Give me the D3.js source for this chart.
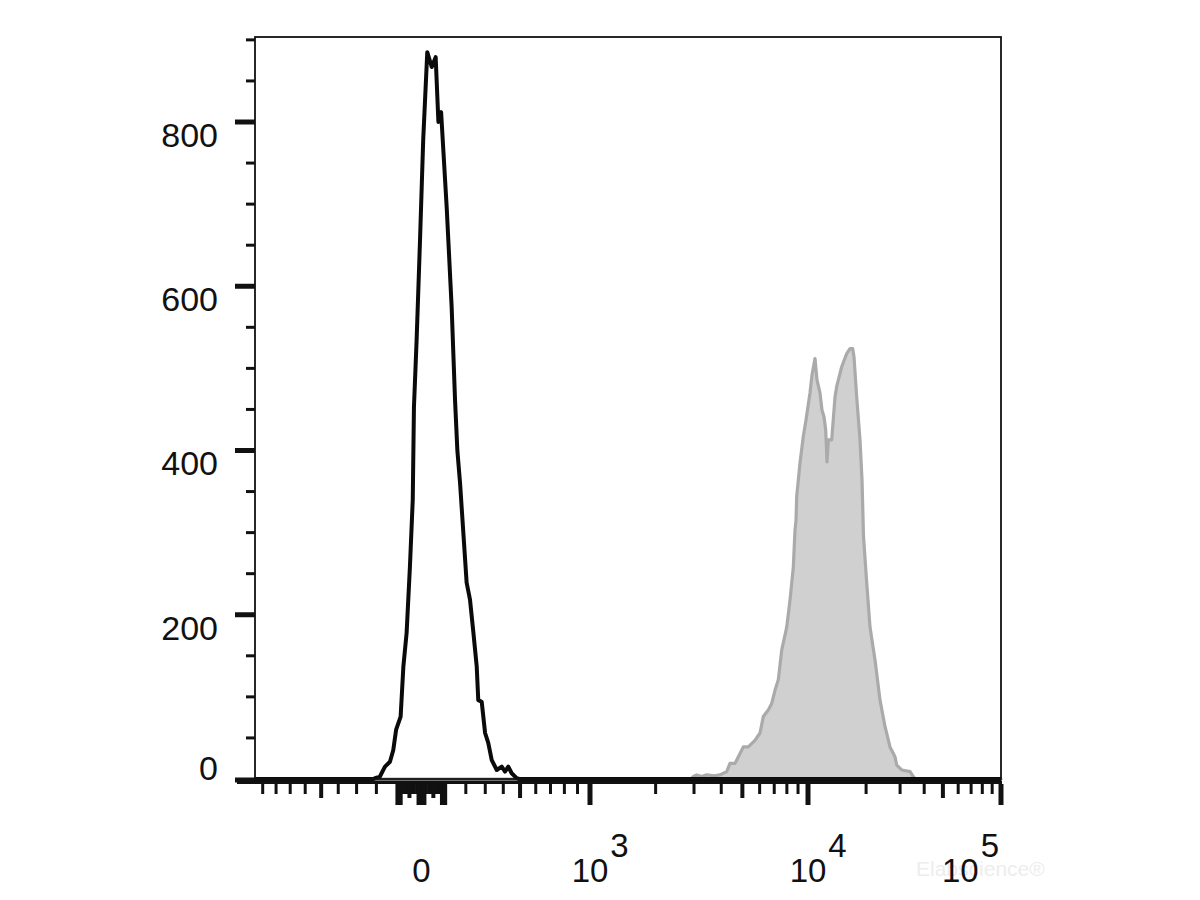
<!DOCTYPE html>
<html>
<head>
<meta charset="utf-8">
<script src="https://cdn.jsdelivr.net/npm/d3@7"></script>
<style>
  html, body { margin: 0; padding: 0; background: #fff; }
  svg { display: block; }
  text { font-family: "Liberation Sans", Arial, Helvetica, sans-serif; }
</style>
</head>
<body>
<script>
// ---------------- data ----------------
// Unstained / isotype control (black outline) : fluorescence value and event count
const blackValues = [-960, -215, -207, -183, -159, -136, -121, -108, -88, -76, -62, -48, -36, -31, -20, -6, 7, 24, 43, 60, 72, 84, 109, 132, 148, 159, 172, 188, 204, 221, 238, 255, 263, 281, 299, 316, 335, 363, 391, 410, 429, 449, 479, 495, 100000];
const blackCounts = [0, 0, 1, 3, 15, 21, 35, 60, 76, 137, 178, 258, 340, 453, 534, 656, 778, 885, 867, 879, 800, 812, 697, 575, 461, 400, 360, 299, 239, 218, 178, 137, 96, 94, 56, 44, 23, 11, 15, 9, 15, 7, 1, 0, 0];

// Stained sample (grey filled)
const greyValues = [-960, 2900, 2978, 3087, 3250, 3430, 3700, 3948, 4237, 4387, 4626, 4877, 5049, 5322, 5712, 6024, 6237, 6575, 6816, 7058, 7309, 7576, 7987, 8270, 8563, 8718, 8810, 8875, 9191, 9515, 9791, 10241, 10490, 10870, 11133, 11540, 11818, 12104, 12351, 12544, 12741, 13268, 13801, 14083, 14951, 15867, 16506, 17046, 17313, 17878, 18596, 19050, 19387, 20145, 20954, 22245, 23611, 25060, 26600, 28234, 28820, 30590, 33780, 35130, 36000, 100000];
const greyCounts = [0, 0, 3, 5, 3, 5, 4, 5, 9, 19, 19, 31, 39, 39, 47, 56, 76, 84, 92, 108, 121, 157, 185, 218, 258, 303, 315, 344, 385, 417, 437, 470, 492, 512, 486, 470, 449, 441, 425, 386, 413, 413, 465, 478, 502, 518, 524, 524, 514, 465, 413, 364, 296, 239, 185, 145, 96, 64, 39, 27, 17, 11, 9, 3, 0, 0];

// axis ticks
const yMajorTicks = [0, 200, 400, 600, 800];
const yMinorTicks = [50, 100, 150, 250, 300, 350, 450, 500, 550, 650, 700, 750, 850, 900];
const yTickLabels = ["0", "200", "400", "600", "800"];

const xMajorTicks = [-100, -90, -10, 0, 10, 90, 100, 1000, 10000, 100000];
const xMediumTicks = [-500, -50, 50, 500, 5000, 50000];
const xMinorTicks = [-900, -800, -700, -600, -400, -300, -200, -80, -70, -60, -40, -30, -20,
  20, 30, 40, 60, 70, 80, 200, 300, 400, 600, 700, 800, 900,
  2000, 3000, 4000, 6000, 7000, 8000, 9000,
  20000, 30000, 40000, 60000, 70000, 80000, 90000];
const xLabelValues = [0, 1000, 10000, 100000];
const xLabelBases = ["0", "10", "10", "10"];
const xLabelExps = ["", "3", "4", "5"];

// ---------------- layout ----------------
const W = 1200, H = 900;
const pLeft = 255, pRight = 1001, pTop = 37, pBottom = 779;

const svg = d3.select("body").append("svg").attr("width", W).attr("height", H);

// biexponential-like x axis: symlog near zero, log above 10^3
const xLow = d3.scaleSymlog().domain([-960, 0, 1000]).range([pLeft, 421.5, 590]).constant(1000);
const xHigh = d3.scaleLog().domain([1e3, 1e4, 1e5]).range([590, 808, pRight]);
const x = v => (v <= 1000 ? xLow(v) : xHigh(v));

const y = d3.scaleLinear().domain([0, 903.5]).range([pBottom, pTop]);

const blackData = blackValues.map((v, i) => ({ v, c: blackCounts[i] }));
const greyData = greyValues.map((v, i) => ({ v, c: greyCounts[i] }));

// ---------------- grey filled histogram ----------------
const area = d3.area().x(d => x(d.v)).y0(y(0)).y1(d => y(d.c));
svg.append("path").datum(greyData)
  .attr("d", area)
  .attr("fill", "#d0d0d0")
  .attr("stroke", "#aaaaaa")
  .attr("stroke-width", 3.2)
  .attr("stroke-linejoin", "round");

// ---------------- black outline histogram ----------------
const line = d3.line().x(d => x(d.v)).y(d => y(d.c));
svg.append("path").datum(blackData)
  .attr("d", line)
  .attr("fill", "none")
  .attr("stroke", "#0a0a0a")
  .attr("stroke-width", 4)
  .attr("stroke-linejoin", "round");

// ---------------- frame ----------------
svg.append("rect")
  .attr("x", pLeft).attr("y", pTop)
  .attr("width", pRight - pLeft).attr("height", pBottom - pTop)
  .attr("fill", "none").attr("stroke", "#111").attr("stroke-width", 1.8);

// bottom axis line
svg.append("line")
  .attr("x1", 237).attr("x2", pRight + 1)
  .attr("y1", pBottom + 3.2).attr("y2", pBottom + 3.2)
  .attr("stroke", "#111").attr("stroke-width", 3.6);

// ---------------- y ticks ----------------
const yAxisG = svg.append("g");
yAxisG.selectAll("line.ymaj").data(yMajorTicks).join("line")
  .attr("x1", 235).attr("x2", pLeft)
  .attr("y1", d => y(d) + (d === 0 ? 1 : 0)).attr("y2", d => y(d) + (d === 0 ? 1 : 0))
  .attr("stroke", "#111").attr("stroke-width", 5);
yAxisG.selectAll("line.ymin").data(yMinorTicks).join("line")
  .attr("x1", 246).attr("x2", pLeft)
  .attr("y1", d => y(d)).attr("y2", d => y(d))
  .attr("stroke", "#111").attr("stroke-width", 3);
yAxisG.selectAll("text").data(yMajorTicks).join("text")
  .attr("x", 218)
  .attr("y", d => y(d) + (d === 0 ? 1 : 25))
  .attr("text-anchor", "end")
  .attr("font-size", 34)
  .attr("fill", "#111")
  .text((d, i) => yTickLabels[i]);

// ---------------- x ticks ----------------
const tickTop = pBottom + 5;
const xAxisG = svg.append("g");
xAxisG.selectAll("line.xmin").data(xMinorTicks).join("line")
  .attr("x1", d => x(d)).attr("x2", d => x(d))
  .attr("y1", tickTop).attr("y2", tickTop + 10)
  .attr("stroke", "#111").attr("stroke-width", 3);
xAxisG.selectAll("line.xmed").data(xMediumTicks).join("line")
  .attr("x1", d => x(d)).attr("x2", d => x(d))
  .attr("y1", tickTop).attr("y2", tickTop + 14)
  .attr("stroke", "#111").attr("stroke-width", 4);
xAxisG.selectAll("line.xmaj").data(xMajorTicks).join("line")
  .attr("x1", d => x(d)).attr("x2", d => x(d))
  .attr("y1", tickTop).attr("y2", tickTop + 21)
  .attr("stroke", "#111").attr("stroke-width", 5);

// watermark
svg.append("text")
  .attr("x", 916).attr("y", 876)
  .attr("font-size", 21)
  .attr("fill", "#ededed")
  .text("Elabscience\u00ae");

// x labels
xLabelValues.forEach((v, i) => {
  const t = svg.append("text")
    .attr("y", 882)
    .attr("font-size", 33)
    .attr("fill", "#111");
  const base = t.append("tspan").text(xLabelBases[i]);
  if (xLabelExps[i]) {
    t.append("tspan").attr("dx", 2).attr("dy", -25).text(xLabelExps[i]);
  }
  const bw = base.node().getComputedTextLength();
  const tw = t.node().getComputedTextLength() + 2;
  let x0 = x(v) - bw / 2;
  if (x0 + tw > pRight) x0 = pRight - tw - 2;
  t.attr("x", x0);
});
</script>
</body>
</html>
